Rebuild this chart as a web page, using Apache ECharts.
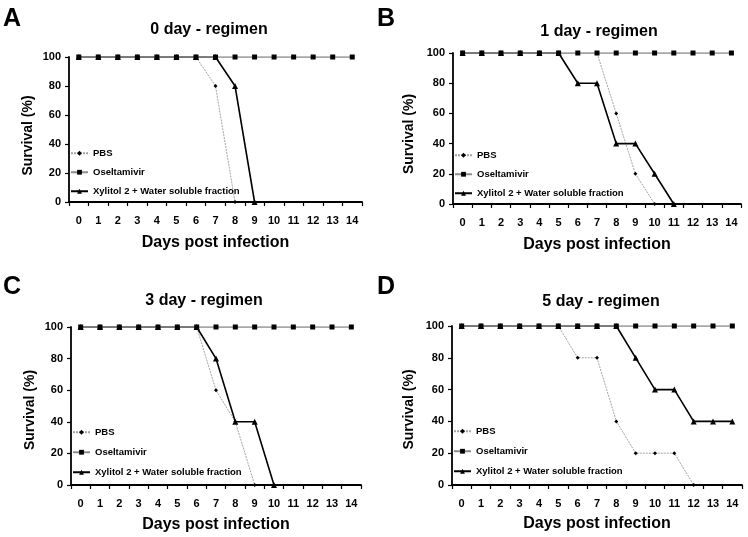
<!DOCTYPE html>
<html>
<head>
<meta charset="utf-8">
<script src="https://cdn.jsdelivr.net/npm/echarts@6/dist/echarts.min.js"></script>
<style>
html,body{margin:0;padding:0;background:#fff;}
#chart{width:748px;height:537px;}
</style>
</head>
<body>
<div id="chart"></div>
<script>
// ---- data ----
var days = ['0','1','2','3','4','5','6','7','8','9','10','11','12','13','14'];
var yTicks = [0, 20, 40, 60, 80, 100];
var seriesNames = ['PBS', 'Oseltamivir', 'Xylitol 2 + Water soluble fraction'];
var panelLetters = ['A', 'B', 'C', 'D'];
var panelTitles = ['0 day - regimen', '1 day - regimen', '3 day - regimen', '5 day - regimen'];

var pbsA = [100,100,100,100,100,100,100,80,0];
var oseA = [100,100,100,100,100,100,100,100,100,100,100,100,100,100,100];
var xylA = [100,100,100,100,100,100,100,100,80,0];

var pbsB = [100,100,100,100,100,100,100,100,60,20,0];
var oseB = [100,100,100,100,100,100,100,100,100,100,100,100,100,100,100];
var xylB = [100,100,100,100,100,100,80,80,40,40,20,0];

var pbsC = [100,100,100,100,100,100,100,60,40,0];
var oseC = [100,100,100,100,100,100,100,100,100,100,100,100,100,100,100];
var xylC = [100,100,100,100,100,100,100,80,40,40,0];

var pbsD = [100,100,100,100,100,100,80,80,40,20,20,20,0];
var oseD = [100,100,100,100,100,100,100,100,100,100,100,100,100,100,100];
var xylD = [100,100,100,100,100,100,100,100,100,80,60,60,40,40,40];

var panelData = [[pbsA, oseA, xylA], [pbsB, oseB, xylB], [pbsC, oseC, xylC], [pbsD, oseD, xylD]];

// ---- layout ----
var FONT = "'Liberation Sans', Arial, sans-serif";
var grids = [
  {left: 69, top: 57, width: 293, height: 145},
  {left: 453, top: 53, width: 288, height: 151},
  {left: 71, top: 327, width: 290, height: 158},
  {left: 452, top: 326, width: 290, height: 159}
];
var xNameGap = [33, 33, 32, 31];
var yNameGap = [34, 37, 34, 36];
var yNameShift = [12, 11, 8, 8];
var legendCenter = [153, 155, 432, 431];
var legendStep = [18.5, 18.5, 19.5, 19.5];
var legendFont = 9.5;
var legendItemH = 6;
var titlePos = [[209, 30], [599, 32], [204, 301], [601, 302]];
var letterPos = [[3, 19], [377, 19], [3, 287], [377, 287]];

var chart = echarts.init(document.getElementById('chart'), null, {renderer: 'canvas'});

var option = {
  backgroundColor: '#ffffff',
  animation: false,
  grid: [], xAxis: [], yAxis: [], series: [], legend: [], graphic: []
};

var lineStyles = [
  {color: '#a3a3a3', width: 1, type: [2, 1]},
  {color: '#8c8c8c', width: 1.5, type: 'solid'},
  {color: '#000000', width: 1.6, type: 'solid'}
];
var symbols = ['diamond', 'rect', 'triangle'];
var symbolSizes = [4, 5, 6];
var zs = [2, 4, 3];

for (var p = 0; p < 4; p++) {
  var g = grids[p];
  option.grid.push({left: g.left, top: g.top, width: g.width, height: g.height, containLabel: false});
  option.xAxis.push({
    type: 'category', gridIndex: p, data: days, boundaryGap: true,
    name: 'Days post infection', nameLocation: 'middle', nameGap: xNameGap[p],
    nameTextStyle: {fontFamily: FONT, fontWeight: 'bold', fontSize: 16, color: '#000'},
    axisLine: {lineStyle: {color: '#000', width: 1.8}},
    axisTick: {show: true, length: 4, lineStyle: {color: '#000', width: 1.2}},
    axisLabel: {fontFamily: FONT, fontWeight: 'bold', fontSize: 11, color: '#000', margin: 13, interval: 0},
    splitLine: {show: false}
  });
  option.yAxis.push({
    type: 'value', gridIndex: p, min: yTicks[0], max: yTicks[yTicks.length - 1], interval: 20,
    name: 'Survival (%)', nameLocation: 'middle', nameGap: yNameGap[p], nameRotate: 90,
    nameTextStyle: {fontFamily: FONT, fontWeight: 'bold', fontSize: 14, color: '#000', padding: [0, yNameShift[p], 0, 0]},
    axisLine: {show: true, lineStyle: {color: '#000', width: 1.8}},
    axisTick: {show: true, length: 4, lineStyle: {color: '#000', width: 1.2}},
    axisLabel: {fontFamily: FONT, fontWeight: 'bold', fontSize: 11, color: '#000', margin: 8},
    splitLine: {show: false}
  });
  var legendNames = [];
  for (var s = 0; s < 3; s++) {
    var nm = seriesNames[s] + (p === 0 ? '' : '\u200B'.repeat(p));
    legendNames.push(nm);
    option.series.push({
      type: 'line', name: nm, xAxisIndex: p, yAxisIndex: p,
      data: panelData[p][s], z: zs[s],
      symbol: symbols[s], symbolSize: symbolSizes[s], showSymbol: true,
      lineStyle: lineStyles[s],
      itemStyle: {color: '#000', borderWidth: 0},
      emphasis: {disabled: true}
    });
  }
  option.legend.push({
    data: legendNames, orient: 'vertical', left: g.left + 1, top: legendCenter[p] - legendFont / 2,
    padding: 0, itemWidth: 17, itemHeight: legendItemH, itemGap: legendStep[p] - legendFont, selectedMode: false,
    textStyle: {fontFamily: FONT, fontWeight: 'bold', fontSize: legendFont, color: '#000'}
  });
  option.graphic.push({
    type: 'text', x: titlePos[p][0], y: titlePos[p][1],
    style: {text: panelTitles[p], font: 'bold 16px ' + FONT, fill: '#000', textAlign: 'center', textVerticalAlign: 'middle'}
  });
  option.graphic.push({
    type: 'text', x: letterPos[p][0], y: letterPos[p][1],
    style: {text: panelLetters[p], font: 'bold 25px ' + FONT, fill: '#000', textAlign: 'left', textVerticalAlign: 'middle'}
  });
}

chart.setOption(option);
</script>
</body>
</html>
